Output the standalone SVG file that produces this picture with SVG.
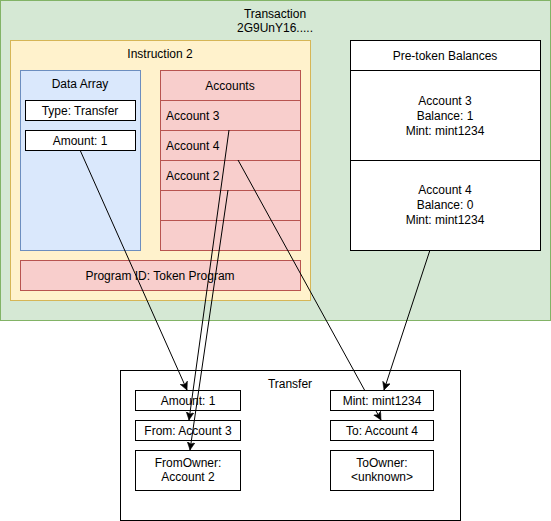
<svg xmlns="http://www.w3.org/2000/svg" width="551" height="521" viewBox="0 0 551 521">
  <style>
    text { font-family: "Liberation Sans", Arial, sans-serif; font-size: 12px; fill: #000; }
    .c { text-anchor: middle; }
    .green { fill: #d5e8d4; stroke: #82b366; }
    .yellow { fill: #fff2cc; stroke: #d6b656; }
    .blue { fill: #dae8fc; stroke: #6c8ebf; }
    .red { fill: #f8cecc; stroke: #b85450; }
    .white { fill: #ffffff; stroke: #000000; }
    .edge { fill: none; stroke: #000; stroke-width: 1; }
  </style>
  <defs>
    <marker id="arrow" markerUnits="userSpaceOnUse" markerWidth="10" markerHeight="10" refX="8" refY="4" orient="auto">
      <path d="M0,0 L8,4 L0,8 L2,4 Z" fill="#000" stroke="#000" stroke-width="0.5"/>
    </marker>
  </defs>

  <g id="transaction">
    <rect class="green" x="0.5" y="0.5" width="550" height="320"/>
    <text class="c" x="275" y="18">Transaction</text>
    <text class="c" x="275" y="32">2G9UnY16.....</text>
  </g>

  <g id="instruction">
    <rect class="yellow" x="10.5" y="40.5" width="300" height="260"/>
    <text class="c" x="160" y="58">Instruction 2</text>
  </g>

  <g id="data-array">
    <rect class="blue" x="20.5" y="70.5" width="120" height="180"/>
    <text class="c" x="80" y="88">Data Array</text>
  </g>
  <g id="type-transfer">
    <rect class="white" x="25.5" y="100.5" width="110" height="20"/>
    <text class="c" x="80" y="115">Type: Transfer</text>
  </g>
  <g id="amount-data">
    <rect class="white" x="25.5" y="130.5" width="110" height="20"/>
    <text class="c" x="80" y="145">Amount: 1</text>
  </g>

  <g id="accounts">
    <rect class="red" x="160.5" y="70.5" width="140" height="30"/>
    <text class="c" x="230" y="90">Accounts</text>
    <rect class="red" x="160.5" y="100.5" width="140" height="30"/>
    <text x="166" y="120">Account 3</text>
    <rect class="red" x="160.5" y="130.5" width="140" height="30"/>
    <text x="166" y="150">Account 4</text>
    <rect class="red" x="160.5" y="160.5" width="140" height="30"/>
    <text x="166" y="180">Account 2</text>
    <rect class="red" x="160.5" y="190.5" width="140" height="30"/>
    <rect class="red" x="160.5" y="220.5" width="140" height="30"/>
  </g>

  <g id="program-id">
    <rect class="red" x="20.5" y="260.5" width="280" height="30"/>
    <text class="c" x="160" y="280">Program ID: Token Program</text>
  </g>

  <g id="pre-token-balances">
    <rect class="white" x="350.5" y="40.5" width="190" height="30"/>
    <text class="c" x="445" y="60">Pre-token Balances</text>
    <rect class="white" x="350.5" y="70.5" width="190" height="90"/>
    <text class="c" x="445" y="105">Account 3</text>
    <text class="c" x="445" y="120">Balance: 1</text>
    <text class="c" x="445" y="135">Mint: mint1234</text>
    <rect class="white" x="350.5" y="160.5" width="190" height="90"/>
    <text class="c" x="445" y="194">Account 4</text>
    <text class="c" x="445" y="209">Balance: 0</text>
    <text class="c" x="445" y="224">Mint: mint1234</text>
  </g>

  <g id="transfer">
    <rect class="white" x="120.5" y="370.5" width="340" height="150"/>
    <text class="c" x="290" y="388">Transfer</text>
  </g>
  <g id="amount">
    <rect class="white" x="135.5" y="390.5" width="105" height="20"/>
    <text class="c" x="188" y="405">Amount: 1</text>
  </g>
  <g id="from">
    <rect class="white" x="135.5" y="420.5" width="105" height="20"/>
    <text class="c" x="188" y="435">From: Account 3</text>
  </g>
  <g id="from-owner">
    <rect class="white" x="135.5" y="450.5" width="105" height="40"/>
    <text class="c" x="188" y="467">FromOwner:</text>
    <text class="c" x="188" y="481">Account 2</text>
  </g>
  <g id="to">
    <rect class="white" x="330.5" y="420.5" width="103" height="20"/>
    <text class="c" x="382" y="435">To: Account 4</text>
  </g>
  <g id="to-owner">
    <rect class="white" x="330.5" y="450.5" width="103" height="40"/>
    <text class="c" x="382" y="467">ToOwner:</text>
    <text class="c" x="382" y="481">&lt;unknown&gt;</text>
  </g>

  <g id="connectors">
    <path class="edge" d="M80,150 L187,390" marker-end="url(#arrow)"/>
    <path class="edge" d="M229,130 L189,420" marker-end="url(#arrow)"/>
    <path class="edge" d="M228,190 L190,450" marker-end="url(#arrow)"/>
    <path class="edge" d="M238,160 L381,420" marker-end="url(#arrow)"/>
    <path class="edge" d="M430,250 L384,390" marker-end="url(#arrow)"/>
  </g>

  <g id="mint">
    <rect class="white" x="330.5" y="390.5" width="103" height="20"/>
    <text class="c" x="382" y="405">Mint: mint1234</text>
  </g>
</svg>
